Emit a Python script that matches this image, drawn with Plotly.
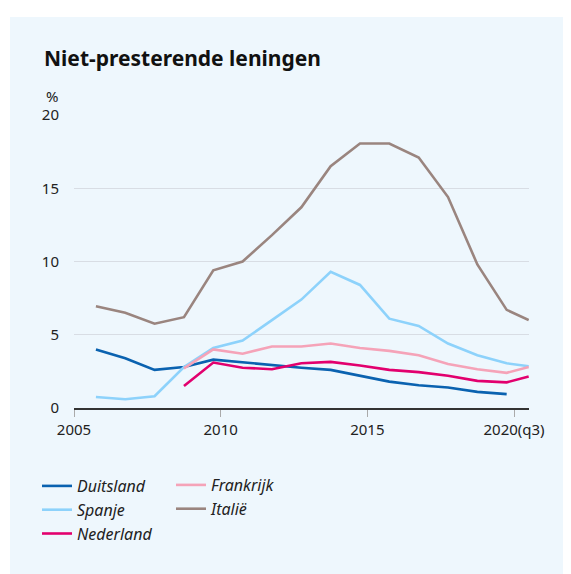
import plotly.graph_objects as go

periods = ["2005-10-01", "2006-10-01", "2007-10-01", "2008-10-01", "2009-10-01",
           "2010-10-01", "2011-10-01", "2012-10-01", "2013-10-01", "2014-10-01",
           "2015-10-01", "2016-10-01", "2017-10-01", "2018-10-01", "2019-10-01",
           "2020-07-01"]

duitsland = [4.0, 3.4, 2.6, 2.8, 3.3, 3.1, 2.9, 2.75, 2.6, 2.2, 1.8, 1.55, 1.4, 1.1, 0.95, None]
spanje = [0.75, 0.6, 0.8, 2.8, 4.1, 4.6, 6.0, 7.4, 9.3, 8.4, 6.1, 5.6, 4.4, 3.6, 3.05, 2.85]
nederland = [None, None, None, 1.5, 3.1, 2.75, 2.65, 3.05, 3.15, 2.9, 2.6, 2.45, 2.2, 1.85, 1.75, 2.15]
frankrijk = [None, None, None, 2.7, 4.0, 3.7, 4.2, 4.2, 4.4, 4.1, 3.9, 3.6, 3.0, 2.65, 2.4, 2.8]
italie = [6.95, 6.5, 5.75, 6.2, 9.4, 10.0, 11.8, 13.7, 16.5, 18.05, 18.05, 17.1, 14.4, 9.8, 6.7, 6.0]

tick_vals = ["2005-01-01", "2010-01-01", "2015-01-01", "2020-01-01"]
tick_text = ["2005", "2010", "2015", "2020(q3)"]
y_ticks = [0, 5, 10, 15, 20]

series = [
    ("Duitsland", duitsland, "#0a62b0", "legend"),
    ("Spanje", spanje, "#8dd2fb", "legend"),
    ("Nederland", nederland, "#e2006e", "legend"),
    ("Frankrijk", frankrijk, "#f5a3b8", "legend2"),
    ("Italië", italie, "#9a857f", "legend2"),
]

BG = "#eef7fd"
FONT = "Noto Sans"
OFF = 8  # page body margin offset

fig = go.Figure()
for name, vals, color, lg in series:
    fig.add_trace(go.Scatter(
        x=periods, y=vals, name=name, mode="lines",
        line=dict(color=color, width=2.6), connectgaps=False,
        legend=lg,
    ))

W, H = 571, 574
# plot area in page coordinates: x 74..529, y 115..408
ml = 74 - OFF
mt = 115 - OFF
mr = W - (529 - OFF)
mb = H - (408 - OFF)
pw = W - ml - mr
ph = H - mt - mb

def px_to_paper_x(px):
    return (px - OFF - ml) / pw

def px_to_paper_y(py):
    return (H - mb - (py - OFF)) / ph

fig.update_layout(
    width=W, height=H,
    margin=dict(l=ml, r=mr, t=mt, b=mb),
    paper_bgcolor=BG, plot_bgcolor=BG,
    font=dict(family=FONT, size=15, color="#222"),
    title=dict(text="<b>Niet-presterende leningen</b>", x=(44 - OFF) / W, xanchor="left",
               y=1 - (59 - OFF) / H, yanchor="middle", font=dict(size=21, color="#111")),
    xaxis=dict(type="date", range=["2005-01-01", "2020-07-05"],
               tickvals=tick_vals, ticktext=tick_text,
               showgrid=False, showline=True, linecolor="#333", linewidth=2,
               ticks="outside", ticklen=7, tickcolor="#aaa", tickwidth=1,
               tickfont=dict(size=15, color="#222"), zeroline=False),
    yaxis=dict(range=[0, 20], tickvals=y_ticks, showgrid=True, gridcolor="#d8dde4",
               gridwidth=1, zeroline=False, showline=False, ticks="",
               ticklabelstandoff=14, tickfont=dict(size=15, color="#222")),
    legend=dict(x=px_to_paper_x(37), xanchor="left", y=px_to_paper_y(469), yanchor="top",
                bgcolor="rgba(0,0,0,0)", font=dict(size=16, style="italic", color="#222"),
                itemwidth=30, tracegroupgap=0),
    legend2=dict(x=px_to_paper_x(171), xanchor="left", y=px_to_paper_y(468), yanchor="top",
                 bgcolor="rgba(0,0,0,0)", font=dict(size=16, style="italic", color="#222"),
                 itemwidth=30, tracegroupgap=0),
    shapes=[
        dict(type="rect", xref="paper", yref="paper", x0=px_to_paper_x(-5), x1=px_to_paper_x(W + 20),
             y0=px_to_paper_y(17), y1=px_to_paper_y(-5), fillcolor="white", line=dict(width=0),
             layer="below"),
        dict(type="rect", xref="paper", yref="paper", x0=px_to_paper_x(-5), x1=px_to_paper_x(10),
             y0=px_to_paper_y(H + 20), y1=px_to_paper_y(-5), fillcolor="white", line=dict(width=0),
             layer="below"),
    ],
    annotations=[
        dict(text="%", xref="paper", yref="paper", x=px_to_paper_x(44), xanchor="left",
             y=px_to_paper_y(96), yanchor="middle", showarrow=False,
             font=dict(size=15, color="#222")),
    ],
)

fig.write_html("out.html")
